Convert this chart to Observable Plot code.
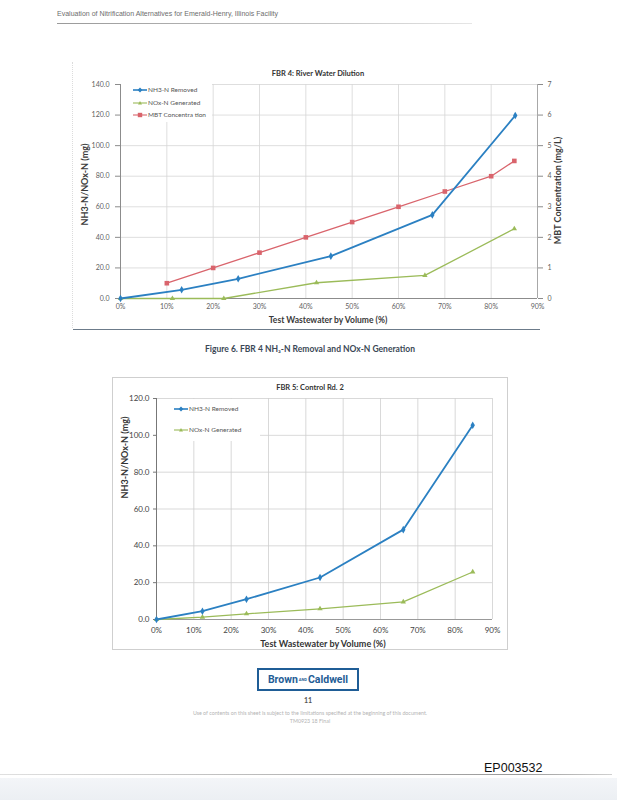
<!DOCTYPE html>
<html><head><meta charset="utf-8">
<script src="https://cdn.jsdelivr.net/npm/d3@7"></script>
<script src="https://cdn.jsdelivr.net/npm/@observablehq/plot@0.6"></script>
<style>
body{margin:0;background:#fff;}
#page{position:relative;width:617px;height:800px;overflow:hidden;background:#fff;font-family:Lato,"Open Sans",sans-serif;}
.abs{position:absolute;white-space:nowrap;line-height:1;}
.plot{position:absolute;}
.leg{position:absolute;display:flex;align-items:center;font-size:6.5px;color:#555;white-space:nowrap;line-height:1;}
.leg svg{margin-right:1px;}
</style></head><body><div id="page"></div>
<script>
// ---------- data ----------
const xTicks = [0, 10, 20, 30, 40, 50, 60, 70, 80, 90];
const yTicks1 = [0, 20, 40, 60, 80, 100, 120, 140];
const mbtTicks = [0, 1, 2, 3, 4, 5, 6, 7];
const yTicks2 = [0, 20, 40, 60, 80, 100, 120];

// FBR 4: River Water Dilution
const fbr4Nh3X = [0, 13.2, 25.4, 45.4, 67.3, 85.2];
const fbr4Nh3Y = [0, 5.7, 12.9, 27.7, 54.7, 119.7];
const fbr4NoxX = [0, 11.2, 22.3, 42.3, 65.7, 85.0];
const fbr4NoxY = [0, 0, 0, 10.3, 15.1, 45.6];
const fbr4MbtX = [10, 20, 30, 40, 50, 60, 70, 80, 85];
const fbr4MbtY = [0.5, 1.0, 1.5, 2.0, 2.5, 3.0, 3.5, 4.0, 4.5]; // mg/L, right axis

// FBR 5: Control Rd. 2
const fbr5X = [0, 12.3, 24.1, 43.8, 66.1, 84.7];
const fbr5Nh3Y = [0, 4.5, 11.0, 22.8, 48.8, 105.5];
const fbr5NoxY = [0, 1.3, 3.1, 5.8, 9.6, 25.8];

const BLUE = "#2b80c2", GREEN = "#9bbb59", RED = "#d9646c";
const MBT_FACTOR = 140 / 7; // right axis 0-7 mg/L maps onto left 0-140 mg

const zip = (xs, ys) => xs.map((x, i) => ({x, y: ys[i]}));
const nh3_4 = zip(fbr4Nh3X, fbr4Nh3Y);
const nox_4 = zip(fbr4NoxX, fbr4NoxY);
const mbt_4 = fbr4MbtX.map((x, i) => ({x, y: fbr4MbtY[i] * MBT_FACTOR}));
const nh3_5 = zip(fbr5X, fbr5Nh3Y);
const nox_5 = zip(fbr5X, fbr5NoxY);

const page = document.getElementById("page");
function place(el, left, top) { el.style.left = left + "px"; el.style.top = top + "px"; page.appendChild(el); return el; }
function text(str, left, top, css) {
  const d = document.createElement("div"); d.className = "abs"; d.textContent = str;
  Object.assign(d.style, css || {}); return place(d, left, top);
}
function box(left, top, w, h, css) {
  const d = document.createElement("div"); d.style.position = "absolute";
  d.style.width = w + "px"; d.style.height = h + "px"; Object.assign(d.style, css || {}); return place(d, left, top);
}
function centerText(str, cx, cy, css) {
  const d = text(str, 0, 0, css);
  const r = d.getBoundingClientRect();
  d.style.left = (cx - r.width / 2) + "px"; d.style.top = (cy - r.height / 2) + "px";
  return d;
}
function rotText(str, cx, cy, css) {
  const d = text(str, 0, 0, css);
  const r = d.getBoundingClientRect();
  d.style.left = (cx - r.width / 2) + "px"; d.style.top = (cy - r.height / 2) + "px";
  d.style.transform = "rotate(-90deg)";
  return d;
}
function fitText(str, left, top, width, css) {
  const d = text(str, left, top, css);
  const r = d.getBoundingClientRect();
  d.style.transformOrigin = "0 0";
  d.style.transform = `scaleX(${width / r.width})`;
  return d;
}
function legendItem(label, color, symbol, left, cy, lineW) {
  const d = document.createElement("div"); d.className = "leg";
  const w = lineW, h = 6;
  let m = "";
  if (symbol === "diamond") m = `<path d="M${w/2} ${h/2-2.4}L${w/2+2.4} ${h/2}L${w/2} ${h/2+2.4}L${w/2-2.4} ${h/2}Z" fill="${color}"/>`;
  if (symbol === "triangle") m = `<path d="M${w/2} ${h/2-2}L${w/2+2} ${h/2+1.6}L${w/2-2} ${h/2+1.6}Z" fill="${color}"/>`;
  if (symbol === "square") m = `<rect x="${w/2-2.2}" y="${h/2-2.2}" width="4.4" height="4.4" fill="${color}"/>`;
  d.innerHTML = `<svg width="${w}" height="${h}"><line x1="0" x2="${w}" y1="${h/2}" y2="${h/2}" stroke="${color}" stroke-width="${symbol==='diamond'?1.6:1.1}"/>${m}</svg><span>${label}</span>`;
  place(d, left, cy - 3);
  return d;
}

// ---------- page header ----------
fitText("Evaluation of Nitrification Alternatives for Emerald-Henry, Illinois Facility", 57, 10, 221,
  {fontFamily: "'Liberation Sans', Arial, sans-serif", fontSize: "7px", color: "#6d6d6d"});
box(57, 23, 415, 1, {background: "linear-gradient(to right,#9a9a9a,#c8c8c8 70%,#e6e6e6)"});

// ---------- chart 1 frame ----------
box(72, 62, 0, 266, {borderLeft: "1px dotted #dcdcdc"});
box(73, 329, 467, 1, {background: "#6c7b8a"});

const grid = {stroke: "#d5d5d5", strokeOpacity: 1, strokeWidth: 0.8};
const axisStroke = {stroke: "#8c8c8c", strokeWidth: 1};

const c1 = Plot.plot({
  width: 517, height: 268,
  marginLeft: 60, marginRight: 40, marginTop: 24, marginBottom: 30,
  x: {domain: [0, 90]},
  y: {domain: [0, 140]},
  style: {fontFamily: "Lato, 'Open Sans', sans-serif", fontSize: "7px", color: "#5f5f5f", background: "transparent", overflow: "visible"},
  marks: [
    Plot.gridX(xTicks, grid),
    Plot.gridY(yTicks1, grid),
    Plot.axisX({ticks: xTicks, tickSize: 0, tickPadding: 6, tickFormat: d => d + "%", label: null}),
    Plot.axisY({ticks: yTicks1, tickSize: 5, tickPadding: 6, tickFormat: d => d.toFixed(1), label: null, stroke: "#8c8c8c"}),
    Plot.axisY({anchor: "right", ticks: mbtTicks.map(v => v * MBT_FACTOR), tickSize: 5, tickPadding: 5,
      tickFormat: d => String(d / MBT_FACTOR), label: null, stroke: "#8c8c8c"}),
    Plot.ruleX([0], axisStroke),
    Plot.ruleX([90], {stroke: "#a8a8a8"}),
    Plot.ruleY([0], axisStroke),
    Plot.line(nox_4, {x: "x", y: "y", stroke: GREEN, strokeWidth: 1.3}),
    Plot.line(mbt_4, {x: "x", y: "y", stroke: RED, strokeWidth: 1.3}),
    Plot.line(nh3_4, {x: "x", y: "y", stroke: BLUE, strokeWidth: 1.8}),
    Plot.dot(nox_4, {x: "x", y: "y", fill: GREEN, symbol: "triangle", r: 2}),
    Plot.dot(mbt_4, {x: "x", y: "y", fill: RED, symbol: "square", r: 2.6}),
    Plot.dot(nh3_4, {x: "x", y: "y", fill: BLUE, symbol: "diamond", r: 2.3})
  ]
});
c1.classList.add("plot"); place(c1, 60, 60);

// legend 1
box(121, 82, 91, 40, {background: "#fff"});
legendItem("NH3-N Removed", BLUE, "diamond", 133, 89.5, 14);
legendItem("NOx-N Generated", GREEN, "triangle", 133, 102.5, 14);
legendItem("MBT Concentra tion", RED, "square", 133, 114.5, 14);

centerText("FBR 4: River Water Dilution", 318, 74, {fontWeight: "700", fontSize: "7.5px", color: "#333"});
rotText("NH3-N/NOx-N (mg)", 85, 184, {fontWeight: "700", fontSize: "9px", color: "#3a3a3a"});
rotText("MBT Concentration (mg/L)", 558, 190, {fontWeight: "700", fontSize: "9px", color: "#3a3a3a"});
centerText("Test Wastewater by Volume (%)", 328, 320, {fontWeight: "700", fontSize: "8.5px", color: "#3a3a3a"});

// caption
centerText("Figure 6. FBR 4 NH\u2083-N Removal and NOx-N Generation", 310, 349,
  {fontWeight: "700", fontSize: "8.5px", color: "#3b4856"});

// ---------- chart 2 ----------
box(112, 377, 396, 273, {border: "1px solid #cfcfcf", boxSizing: "border-box", background: "#fff"});

const c2 = Plot.plot({
  width: 412, height: 259,
  marginLeft: 56, marginRight: 20, marginTop: 18, marginBottom: 20,
  x: {domain: [0, 90]},
  y: {domain: [0, 120]},
  style: {fontFamily: "Lato, 'Open Sans', sans-serif", fontSize: "8px", color: "#444", background: "transparent", overflow: "visible"},
  marks: [
    Plot.gridX(xTicks, {stroke: "#cfcfcf", strokeOpacity: 1, strokeWidth: 0.8}),
    Plot.gridY(yTicks2, {stroke: "#cfcfcf", strokeOpacity: 1, strokeWidth: 0.8}),
    Plot.axisX({ticks: xTicks, tickSize: 0, tickPadding: 8, tickFormat: d => d + "%", label: null}),
    Plot.axisY({ticks: yTicks2, tickSize: 3, tickPadding: 4, tickFormat: d => d.toFixed(1), label: null, stroke: "#777"}),
    Plot.ruleX([0], {stroke: "#777"}),
    Plot.ruleY([0], {stroke: "#999"}),
    Plot.line(nox_5, {x: "x", y: "y", stroke: GREEN, strokeWidth: 1.3}),
    Plot.line(nh3_5, {x: "x", y: "y", stroke: BLUE, strokeWidth: 1.8}),
    Plot.dot(nox_5, {x: "x", y: "y", fill: GREEN, symbol: "triangle", r: 2}),
    Plot.dot(nh3_5, {x: "x", y: "y", fill: BLUE, symbol: "diamond", r: 2.3})
  ]
});
c2.classList.add("plot"); place(c2, 100, 380);

box(157, 399, 103, 42, {background: "#fff"});
legendItem("NH3-N Removed", BLUE, "diamond", 174, 409, 14);
legendItem("NOx-N Generated", GREEN, "triangle", 174, 430, 14);

centerText("FBR 5: Control Rd. 2", 310, 388, {fontWeight: "700", fontSize: "7.5px", color: "#333"});
rotText("NH3-N/NOx-N (mg)", 125, 457, {fontWeight: "700", fontSize: "9px", color: "#333"});
centerText("Test Wastewater by Volume (%)", 323, 643, {fontWeight: "700", fontSize: "9px", color: "#333"});

// ---------- footer ----------
const logo = box(257, 668, 102, 23, {border: "2px solid #1f5d96", boxSizing: "border-box", display: "flex",
  alignItems: "center", justifyContent: "center", fontFamily: "Roboto, Lato, sans-serif", color: "#1f5d96", fontWeight: "700"});
logo.innerHTML = '<span style="font-size:10.5px">Brown</span><span style="font-size:4px;margin:0 1px">AND</span><span style="font-size:10.5px">Caldwell</span>';
centerText("11", 308, 700, {fontSize: "7px", color: "#555", fontWeight: "700"});
centerText("Use of contents on this sheet is subject to the limitations specified at the beginning of this document.", 310, 714,
  {fontSize: "5.3px", color: "#b4b4b4"});
centerText("TM0923 18 Final", 310, 722, {fontSize: "5.3px", color: "#b4b4b4"});

box(0, 774, 612, 1, {background: "linear-gradient(to right,#e0e0e0,#bdbdbd 40%,#9a9a9a 85%,#d0d0d0)"});
box(0, 778, 617, 22, {background: "linear-gradient(to bottom,#f3f5f8,#eceff3)"});
text("EP003532", 484, 762, {fontFamily: "'Liberation Sans', Arial, sans-serif", fontSize: "12.5px", color: "#111", fontWeight: "400"});
</script></body></html>
